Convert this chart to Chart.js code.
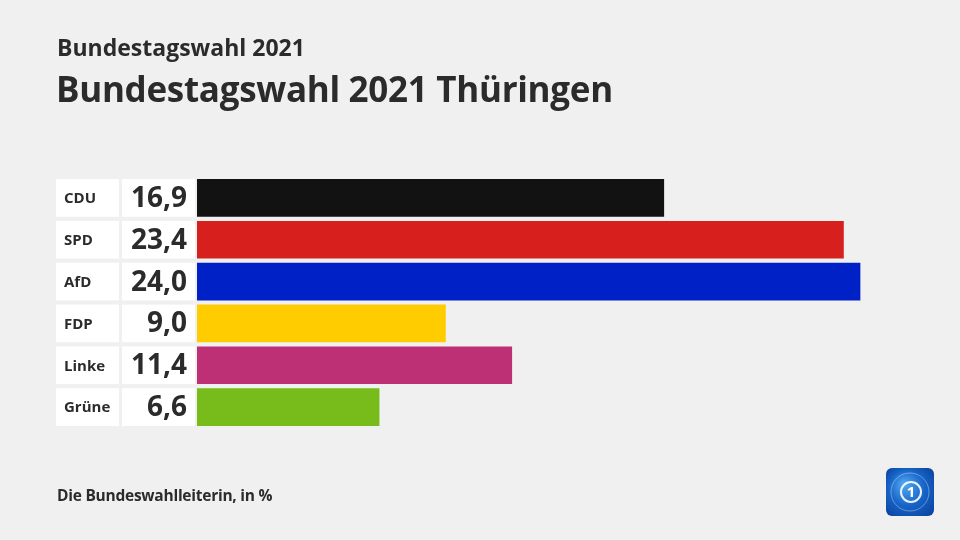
<!DOCTYPE html>
<html><head><meta charset="utf-8">
<script src="https://cdn.jsdelivr.net/npm/chart.js@4.4.0/dist/chart.umd.min.js"></script>
<style>
html,body{margin:0;padding:0;background:#f0f0f0;}
#wrap{position:relative;width:960px;height:540px;overflow:hidden;font-family:"Open Sans",sans-serif;color:#2b2b2b;}
#sup{position:absolute;left:57px;top:31px;font-size:23px;font-weight:700;letter-spacing:0px;}
#title{position:absolute;left:56px;top:65px;font-size:35px;font-weight:700;letter-spacing:-0.3px;}
#foot{position:absolute;left:57px;top:484px;font-size:15.5px;font-weight:700;letter-spacing:-0.25px;}
canvas{position:absolute;left:0;top:0;}
</style></head>
<body><div id="wrap">
<canvas id="c" width="960" height="540"></canvas>
<div id="sup">Bundestagswahl 2021</div>
<div id="title">Bundestagswahl 2021 Thüringen</div>
<div id="foot">Die Bundeswahlleiterin, in %</div>
</div>
<script>
const parties = ["CDU","SPD","AfD","FDP","Linke","Grüne"];
const values = [16.9,23.4,24.0,9.0,11.4,6.6];
const valueLabels = ["16,9","23,4","24,0","9,0","11,4","6,6"];
const colors = ["#121212","#d71f1d","#0021c6","#ffcc00","#be3075","#78bc1b"];

const labelBoxes = {
  id:'labelBoxes',
  afterDatasetsDraw(chart){
    const ctx = chart.ctx;
    const meta = chart.getDatasetMeta(0);
    ctx.save();
    meta.data.forEach((bar,i)=>{
      const h = bar.height, top = bar.y - h/2;
      ctx.fillStyle = '#ffffff';
      ctx.fillRect(56, top, 63, h);
      ctx.fillRect(122, top, 73, h);
      ctx.fillStyle = '#2b2b2b';
      ctx.textBaseline = 'middle';
      ctx.textAlign = 'left';
      ctx.font = '700 15px "Open Sans"';
      ctx.fillText(parties[i], 64, bar.y+1);
      ctx.textAlign = 'right';
      ctx.font = '700 28px "Open Sans"';
      ctx.fillText(valueLabels[i], 187, bar.y+1);
    });
    // logo
    const lx=886, ly=468, s=48;
    const g = ctx.createRadialGradient(lx+s/2-6, ly+s/2-8, 2, lx+s/2, ly+s/2, s*0.7);
    g.addColorStop(0,'#4fa3ee'); g.addColorStop(0.5,'#1664c8'); g.addColorStop(1,'#0a3f9a');
    ctx.fillStyle = g;
    ctx.beginPath(); ctx.roundRect(lx,ly,s,s,6); ctx.fill();
    ctx.strokeStyle='rgba(255,255,255,0.35)'; ctx.lineWidth=1;
    ctx.beginPath(); ctx.arc(lx+s/2, ly+s/2, 19, 0, Math.PI*2); ctx.stroke();
    ctx.strokeStyle='rgba(255,255,255,0.9)'; ctx.lineWidth=2;
    ctx.beginPath(); ctx.arc(lx+s/2+1, ly+s/2, 10, 0, Math.PI*2); ctx.stroke();
    ctx.fillStyle='#ffffff'; ctx.font='700 15px "Open Sans"'; ctx.textAlign='center';
    ctx.fillText('1', lx+s/2+1, ly+s/2+1);
    ctx.restore();
  }
};

new Chart(document.getElementById('c'), {
  type:'bar',
  data:{labels:parties, datasets:[{data:values, backgroundColor:colors, borderWidth:0,
    barPercentage:0.9, categoryPercentage:1}]},
  options:{
    indexAxis:'y', responsive:false, animation:false,
    layout:{padding:{left:197, right:72, top:177, bottom:112}},
    plugins:{legend:{display:false}, tooltip:{enabled:false}},
    scales:{
      x:{display:false, min:0, max:25},
      y:{display:false}
    }
  },
  plugins:[labelBoxes]
});
</script>
</body></html>
